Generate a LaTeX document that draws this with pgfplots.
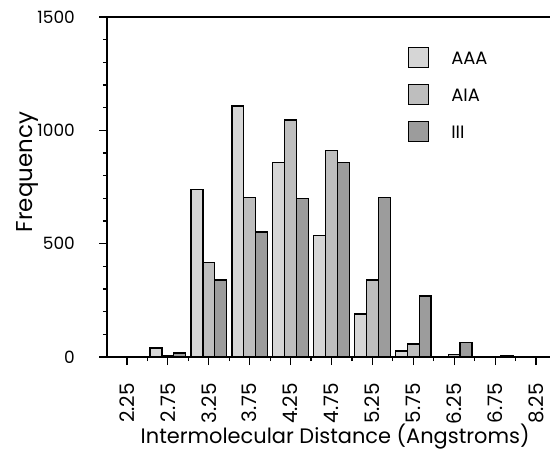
\documentclass[border=0pt]{standalone}
\usepackage{fontspec}
\setmainfont{Poppins}
\usepackage{pgfplots}
\pgfplotsset{compat=1.18}
\definecolor{aaa}{HTML}{D6D6D6}
\definecolor{aia}{HTML}{BEBEBE}
\definecolor{iii}{HTML}{9C9C9C}
\begin{document}
\begin{tikzpicture}
\useasboundingbox (-107bp,-93bp) rectangle (443bp,357bp);
\begin{axis}[
  scale only axis,
  width=443bp, height=340bp,
  xmin=-0.489, xmax=10.342,
  ymin=0, ymax=1500,
  axis x line=box, axis y line=left,
  xtick pos=bottom,
  axis line style={line width=1.5pt, -},
  every tick/.style={black, line width=1.2pt},
  tick align=outside,
  major tick length=8bp, minor tick length=4bp,
  xtick={0,...,10},
  xticklabels={2.25,2.75,3.25,3.75,4.25,4.75,5.25,5.75,6.25,6.75,8.25},
  minor x tick num=1,
  ytick={0,500,1000,1500},
  minor y tick num=4,
  /pgf/number format/assume math mode=true,
  /pgf/number format/1000 sep={},
  xticklabel style={font=\fontsize{20}{20}\selectfont, yshift=-18bp, rotate=90, anchor=east, inner sep=0pt},
  yticklabel style={font=\fontsize{17}{17}\selectfont, inner sep=0pt, anchor=east, xshift=-24bp},
  xlabel={Intermolecular Distance (Angstroms)},
  ylabel={Frequency},
  every axis x label/.style={at={(axis description cs:0.515,0)}, anchor=base, inner sep=0pt, yshift=-86bp, font=\fontsize{21}{21}\selectfont},
  every axis y label/.style={at={(axis description cs:0,0.544)}, anchor=center, xshift=-80bp, rotate=90, font=\fontsize{23}{23}\selectfont},
  legend style={draw=none, fill=none, at={(axis description cs:0.679,0.912)}, anchor=north west, inner sep=0pt, row sep=15.5bp, font=\fontsize{18}{18}\selectfont, nodes={inner sep=2bp}},
  legend cell align=left,
  legend image code/.code={\draw[#1, line width=1.3pt] (0bp,-8.5bp) rectangle (20bp,11.5bp); \path (40bp,0bp);},
  clip=false,
]
\addplot[ybar, bar width=0.29, bar shift=-0.29, fill=aaa, draw=black, line width=1.3pt]
 coordinates {(0,3) (1,40) (2,740) (3,1107) (4,857) (5,537) (6,190) (7,27) (8,3) (9,2) (10,1)};
\addplot[ybar, bar width=0.29, bar shift=0, fill=aia, draw=black, line width=1.3pt]
 coordinates {(0,2) (1,8) (2,418) (3,705) (4,1046) (5,910) (6,340) (7,57) (8,10) (9,3) (10,1)};
\addplot[ybar, bar width=0.29, bar shift=0.29, fill=iii, draw=black, line width=1.3pt]
 coordinates {(0,3) (1,18) (2,340) (3,551) (4,699) (5,859) (6,705) (7,269) (8,65) (9,8) (10,1)};
\legend{AAA, AIA, III}
\end{axis}
\end{tikzpicture}
\end{document}
